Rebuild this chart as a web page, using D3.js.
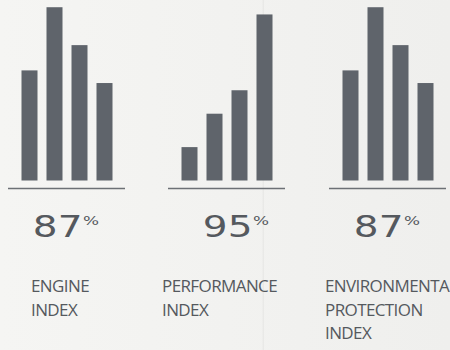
<!DOCTYPE html>
<meta charset="utf-8">
<style>
  body { margin: 0; background: #f3f3f1; }
  svg { display: block; }
  .bar { fill: #5f646b; }
  .base { stroke: #6c7075; stroke-width: 1.5px; }
  .num { font-family: "DejaVu Sans", sans-serif; fill: #55595e; }
  .lbl { font-family: "Open Sans", sans-serif; font-size: 17px; fill: #55595e; letter-spacing: -0.6px; }
</style>
<body>
<script src="https://d3js.org/d3.v7.min.js"></script>
<script>
  // chart data
  var panels = ["engine", "performance", "environment"];
  var bars = ["a", "b", "c", "d"];
  var engineValues = [61, 96, 75, 54];
  var performanceValues = [18.5, 37, 50, 92];
  var environmentValues = [61, 96, 75, 54];
  var scores = ["87", "95", "87"];
  var labels = [["ENGINE", "INDEX"], ["PERFORMANCE", "INDEX"], ["ENVIRONMENTAL", "PROTECTION", "INDEX"]];
  var values = [engineValues, performanceValues, environmentValues];

  var width = 450, height = 350;

  // where each small chart sits
  var layout = [
    {left: 8, num: 58, lbl: 23},
    {left: 168, num: 68, lbl: -6},
    {left: 329, num: 58, lbl: -4}
  ];

  var svg = d3.select("body").append("svg")
      .attr("width", width)
      .attr("height", height);

  // soft background + the faint panel divider
  var defs = svg.append("defs");
  var grad = defs.append("linearGradient").attr("id", "bg");
  grad.append("stop").attr("offset", "0%").attr("stop-color", "#f5f5f3");
  grad.append("stop").attr("offset", "100%").attr("stop-color", "#efefed");
  svg.append("rect").attr("width", width).attr("height", height).attr("fill", "url(#bg)");
  svg.append("rect").attr("x", 262.5).attr("y", 0).attr("width", 1.5).attr("height", height)
      .attr("fill", "#e9e9e7");

  var y = d3.scaleLinear().domain([0, 100]).range([180.5, 0]);

  panels.forEach(function(p, i) {
    var L = layout[i];
    var g = svg.append("g").attr("transform", "translate(" + L.left + ",0)");

    var x = d3.scaleBand().domain(bars).range([13.5, 104.5]).paddingInner(0.36).paddingOuter(0);

    g.selectAll("rect.bar")
      .data(values[i])
      .enter().append("rect")
      .attr("class", "bar")
      .attr("x", function(d, j) { return x(bars[j]); })
      .attr("width", x.bandwidth())
      .attr("y", function(d) { return y(d); })
      .attr("height", function(d) { return y(0) - y(d); });

    g.append("line").attr("class", "base")
      .attr("x1", 0).attr("x2", 117)
      .attr("y1", 188.5).attr("y2", 188.5);

    // big score, stretched wide like the original
    var t = g.append("g")
      .attr("transform", "translate(" + L.num + ",237) scale(1.3,1)")
      .append("text").attr("class", "num")
      .attr("text-anchor", "middle");
    t.append("tspan").attr("font-size", 30).text(scores[i]);
    t.append("tspan").attr("font-size", 13).attr("dx", 0.5).attr("dy", -12).text("%");

    var lt = g.append("text").attr("class", "lbl");
    lt.selectAll("tspan")
      .data(labels[i])
      .enter().append("tspan")
      .attr("x", L.lbl)
      .attr("y", function(d, k) { return 292 + k * 23.5; })
      .text(function(d) { return d; });
  });
</script>
</body>
